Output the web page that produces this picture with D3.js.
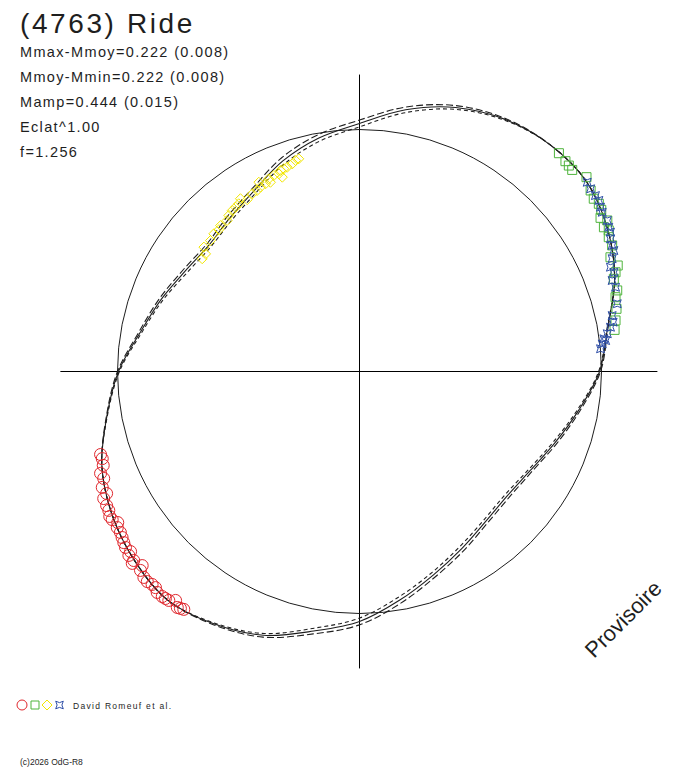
<!DOCTYPE html>
<html>
<head>
<meta charset="utf-8">
<script src="https://cdn.jsdelivr.net/npm/d3@7"></script>
<style>
  body { margin: 0; background: #fff; }
  svg { display: block; font-family: "Liberation Sans", Arial, sans-serif; }
</style>
</head>
<body>
<div id="chart"></div>
<script>
// Model curves: radius (reference circle = 1) every 10 deg, counter-clockwise from +x
var curveAngles = d3.range(0, 360, 10);
var rSolid = [0.992, 1.041, 1.122, 1.183, 1.223, 1.224, 1.203, 1.161, 1.098, 1.025, 0.979, 0.926,
              0.866, 0.831, 0.812, 0.831, 0.872, 0.921, 0.996, 1.060, 1.133, 1.181, 1.214, 1.233,
              1.204, 1.160, 1.089, 1.033, 0.959, 0.894, 0.845, 0.810, 0.798, 0.816, 0.860, 0.920];
var rOuter = [0.996, 1.043, 1.122, 1.183, 1.223, 1.224, 1.207, 1.169, 1.110, 1.039, 0.993, 0.940,
              0.878, 0.843, 0.822, 0.841, 0.880, 0.927, 1.000, 1.062, 1.133, 1.181, 1.214, 1.233,
              1.208, 1.168, 1.101, 1.047, 0.973, 0.906, 0.857, 0.820, 0.808, 0.824, 0.868, 0.926];
var rInner = [0.988, 1.039, 1.122, 1.183, 1.223, 1.224, 1.199, 1.153, 1.086, 1.011, 0.965, 0.912,
              0.854, 0.819, 0.802, 0.821, 0.864, 0.915, 0.992, 1.058, 1.133, 1.181, 1.214, 1.233,
              1.200, 1.152, 1.077, 1.019, 0.945, 0.882, 0.833, 0.800, 0.788, 0.808, 0.852, 0.914];

// Observations (same units, x right / y up)
var redX = [-1.070, -1.063, -1.059, -1.070, -1.057, -1.063, -1.045, -1.057, -1.045, -1.036, -1.032, -1.022,
            -0.999, -1.001, -0.988, -0.981, -0.974, -0.967, -0.946, -0.953, -0.933, -0.939, -0.898, -0.905,
            -0.891, -0.877, -0.857, -0.843, -0.836, -0.815, -0.802, -0.788, -0.760, -0.753, -0.740, -0.726];
var redY = [-0.343, -0.360, -0.388, -0.421, -0.442, -0.479, -0.504, -0.525, -0.554, -0.574, -0.599, -0.612,
            -0.624, -0.645, -0.665, -0.686, -0.707, -0.727, -0.744, -0.760, -0.781, -0.793, -0.802, -0.822,
            -0.851, -0.868, -0.880, -0.893, -0.913, -0.930, -0.938, -0.946, -0.946, -0.975, -0.979, -0.983];

var greenX = [0.824, 0.851, 0.865, 0.879, 0.938, 0.955, 0.968, 0.989, 0.999, 0.996, 1.024, 1.010,
              1.030, 1.030, 1.044, 1.037, 1.067, 1.058, 1.051, 1.065, 1.058, 1.062, 1.058, 1.054];
var greenY = [0.902, 0.869, 0.851, 0.833, 0.803, 0.748, 0.714, 0.693, 0.668, 0.635, 0.624, 0.596,
              0.583, 0.555, 0.521, 0.472, 0.438, 0.410, 0.383, 0.335, 0.307, 0.259, 0.211, 0.172];

var yellowX = [-0.650, -0.636, -0.643, -0.616, -0.602, -0.581, -0.574, -0.547, -0.540, -0.526, -0.512, -0.499,
               -0.492, -0.464, -0.443, -0.423, -0.409, -0.416, -0.388, -0.375, -0.354, -0.333, -0.326, -0.313,
               -0.299, -0.278, -0.264, -0.251, -0.319, -0.368];
var yellowY = [0.466, 0.486, 0.514, 0.541, 0.569, 0.586, 0.603, 0.624, 0.645, 0.665, 0.679, 0.693,
               0.714, 0.710, 0.734, 0.748, 0.762, 0.782, 0.776, 0.796, 0.810, 0.817, 0.831, 0.838,
               0.844, 0.858, 0.872, 0.879, 0.803, 0.782];

var blueX = [0.941, 0.955, 0.975, 0.989, 0.996, 1.003, 1.024, 1.030, 1.037, 1.037, 1.044, 1.051, 1.044,
             1.037, 1.051, 1.044, 1.058, 1.065, 1.044, 1.048, 1.037, 1.024, 1.010, 1.003, 0.996, 1.017];
var blueY = [0.782, 0.755, 0.727, 0.707, 0.679, 0.658, 0.624, 0.596, 0.576, 0.548, 0.521, 0.500, 0.466,
             0.431, 0.410, 0.376, 0.348, 0.280, 0.231, 0.204, 0.183, 0.156, 0.135, 0.114, 0.094, 0.128];

var titleText = "(4763) Ride";
var statLines = ["Mmax-Mmoy=0.222 (0.008)", "Mmoy-Mmin=0.222 (0.008)", "Mamp=0.444 (0.015)",
                 "Eclat^1.00", "f=1.256"];
var authorText = "David Romeuf et al.";
var copyText = "(c)2026 OdG-R8";
var stampText = "Provisoire";

var colors = { red: "#e0262c", green: "#4fb43c", yellow: "#f2e600", blue: "#2f4fa8", ink: "#1e1e1e" };

var width = 688, height = 768;
var cx = 359.5, cy = 371.5, R = 242;

var svg = d3.select("#chart").append("svg")
    .attr("width", width)
    .attr("height", height);

var x = d3.scaleLinear().domain([-1, 1]).range([cx - R, cx + R]);
var y = d3.scaleLinear().domain([-1, 1]).range([cy + R, cy - R]);
var r = d3.scaleLinear().domain([0, 1]).range([0, R]);

// axes through the origin
svg.append("line")
    .attr("x1", x(-1.236)).attr("x2", x(1.231))
    .attr("y1", y(0)).attr("y2", y(0))
    .style("stroke", "#000").style("stroke-width", 1);
svg.append("line")
    .attr("x1", x(0)).attr("x2", x(0))
    .attr("y1", y(1.227)).attr("y2", y(-1.227))
    .style("stroke", "#000").style("stroke-width", 1);

// reference circle
svg.append("circle")
    .attr("cx", x(0)).attr("cy", y(0)).attr("r", r(1))
    .style("fill", "none").style("stroke", colors.ink).style("stroke-width", 1);

// model curves
var radial = d3.lineRadial()
    .angle(function(d) { return Math.PI / 2 - d[0] * Math.PI / 180; })
    .radius(function(d) { return r(d[1]); })
    .curve(d3.curveCatmullRomClosed.alpha(0.5));

var curveGroup = svg.append("g")
    .attr("transform", "translate(" + x(0) + "," + y(0) + ")");

[[rSolid, null], [rOuter, "7,3"], [rInner, "4,3"]].forEach(function(c) {
    var pts = curveAngles.map(function(a, i) { return [a, c[0][i]]; });
    curveGroup.append("path")
        .attr("d", radial(pts))
        .style("fill", "none")
        .style("stroke", colors.ink)
        .style("stroke-width", 1.1)
        .style("stroke-dasharray", c[1]);
});

// marker shapes
function squarePath(s) { return "M" + (-s) + "," + (-s) + "H" + s + "V" + s + "H" + (-s) + "Z"; }
function diamondPath(s) { return "M0," + (-s) + "L" + s + ",0L0," + s + "L" + (-s) + ",0Z"; }
function starPath(s) {
    var k = s * 0.25;
    return "M" + (-s) + "," + (-s) + "Q0," + (-k) + " " + s + "," + (-s) +
           "Q" + k + ",0 " + s + "," + s + "Q0," + k + " " + (-s) + "," + s +
           "Q" + (-k) + ",0 " + (-s) + "," + (-s) + "Z";
}
function circlePath(s) {
    return "M" + (-s) + ",0A" + s + "," + s + " 0 1,0 " + s + ",0A" + s + "," + s + " 0 1,0 " + (-s) + ",0Z";
}

function drawSeries(xs, ys, shape, color) {
    svg.append("g").selectAll("path")
        .data(xs.map(function(v, i) { return [v, ys[i]]; }))
        .enter().append("path")
        .attr("transform", function(d) { return "translate(" + x(d[0]) + "," + y(d[1]) + ")"; })
        .attr("d", shape)
        .style("fill", "none")
        .style("stroke", color)
        .style("stroke-width", 1);
}

drawSeries(redX, redY, circlePath(6), colors.red);
drawSeries(yellowX, yellowY, diamondPath(5), colors.yellow);
drawSeries(greenX, greenY, squarePath(4.5), colors.green);
drawSeries(blueX, blueY, starPath(4), colors.blue);

// texts
svg.append("text")
    .attr("x", 20).attr("y", 33)
    .style("font-size", "28px").style("letter-spacing", "2.6px")
    .style("fill", colors.ink)
    .text(titleText);

svg.selectAll(".stat")
    .data(statLines)
    .enter().append("text")
    .attr("class", "stat")
    .attr("x", 20)
    .attr("y", function(d, i) { return 57 + i * 25; })
    .style("font-size", "14.5px").style("letter-spacing", "1.35px")
    .style("fill", colors.ink)
    .text(function(d) { return d; });

svg.append("text")
    .attr("transform", "translate(594,659) rotate(-45)")
    .style("font-size", "22px")
    .style("fill", colors.ink)
    .text(stampText);

// legend
var legend = svg.append("g").attr("transform", "translate(0,705)");
[[circlePath(5), colors.red, 22], [squarePath(4), colors.green, 35],
 [diamondPath(5), colors.yellow, 47], [starPath(3.8), colors.blue, 59.5]].forEach(function(m) {
    legend.append("path")
        .attr("transform", "translate(" + m[2] + ",0)")
        .attr("d", m[0])
        .style("fill", "none").style("stroke", m[1]).style("stroke-width", 1);
});
legend.append("text")
    .attr("x", 73).attr("y", 3.5)
    .style("font-size", "8.5px").style("letter-spacing", "1.3px")
    .style("fill", colors.ink)
    .text(authorText);

svg.append("text")
    .attr("x", 20).attr("y", 765)
    .style("font-size", "8.5px")
    .style("fill", colors.ink)
    .text(copyText);
</script>
</body>
</html>
